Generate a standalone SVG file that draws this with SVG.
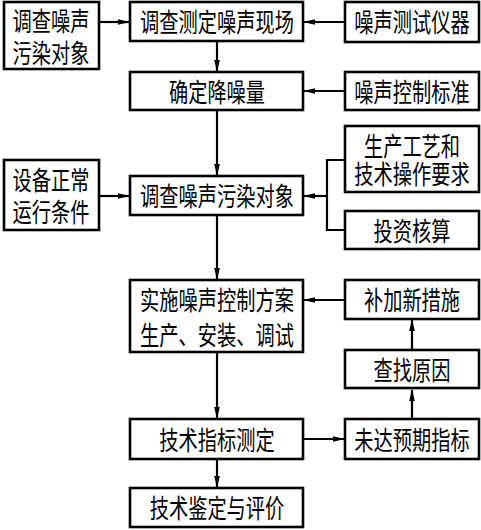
<svg xmlns="http://www.w3.org/2000/svg" width="481" height="530" viewBox="0 0 481 530">
<style>
.b{fill:#fff;stroke:#000;stroke-width:2.6}
.t{font-family:"Noto Sans CJK SC","Noto Sans",sans-serif;font-size:26px;fill:#000;text-anchor:middle;dominant-baseline:central}
.c{fill:none;stroke:#000;stroke-width:2.2}
</style>
<defs>
<marker id="a" markerWidth="12" markerHeight="8" refX="11" refY="4" orient="auto" markerUnits="userSpaceOnUse">
<path d="M0,1.2 L12,4 L0,6.8 Z" fill="#000"/>
</marker>
</defs>
<rect width="481" height="530" fill="#fff"/>
<g id="connectors">
<line class="c" x1="99" y1="22" x2="129" y2="22" marker-end="url(#a)"/>
<line class="c" x1="345" y1="22" x2="304" y2="22" marker-end="url(#a)"/>
<line class="c" x1="217" y1="41" x2="217" y2="71" marker-end="url(#a)"/>
<line class="c" x1="345" y1="91" x2="304" y2="91" marker-end="url(#a)"/>
<line class="c" x1="217" y1="110" x2="217" y2="175" marker-end="url(#a)"/>
<line class="c" x1="99" y1="196" x2="129" y2="196" marker-end="url(#a)"/>
<polyline class="c" points="345,160 327,160 327,230 345,230"/>
<line class="c" x1="327" y1="196" x2="304" y2="196" marker-end="url(#a)"/>
<line class="c" x1="217" y1="215" x2="217" y2="279" marker-end="url(#a)"/>
<line class="c" x1="345" y1="300" x2="304" y2="300" marker-end="url(#a)"/>
<line class="c" x1="412" y1="350" x2="412" y2="320" marker-end="url(#a)"/>
<line class="c" x1="217" y1="352" x2="217" y2="418" marker-end="url(#a)"/>
<line class="c" x1="303" y1="439" x2="344" y2="439" marker-end="url(#a)"/>
<line class="c" x1="412" y1="419" x2="412" y2="390" marker-end="url(#a)"/>
<line class="c" x1="217" y1="459" x2="217" y2="487" marker-end="url(#a)"/>
</g>
<g id="n1"><rect class="b" x="4" y="2" width="95" height="67"/>
<text class="t" transform="translate(51,20) scale(0.74,1)">调查噪声</text>
<text class="t" transform="translate(51,52) scale(0.74,1)">污染对象</text></g>
<g id="n2"><rect class="b" x="130" y="2" width="173" height="39"/>
<text class="t" transform="translate(217,21) scale(0.74,1)">调查测定噪声现场</text></g>
<g id="n3"><rect class="b" x="345" y="2" width="134" height="40"/>
<text class="t" transform="translate(412,21) scale(0.74,1)">噪声测试仪器</text></g>
<g id="n4"><rect class="b" x="130" y="72" width="173" height="38"/>
<text class="t" transform="translate(217,91) scale(0.74,1)">确定降噪量</text></g>
<g id="n5"><rect class="b" x="345" y="72" width="134" height="38"/>
<text class="t" transform="translate(412,91) scale(0.74,1)">噪声控制标准</text></g>
<g id="n6"><rect class="b" x="4" y="160" width="95" height="70"/>
<text class="t" transform="translate(51,179) scale(0.74,1)">设备正常</text>
<text class="t" transform="translate(51,211) scale(0.74,1)">运行条件</text></g>
<g id="n7"><rect class="b" x="130" y="176" width="173" height="39"/>
<text class="t" transform="translate(217,195) scale(0.74,1)">调查噪声污染对象</text></g>
<g id="n8"><rect class="b" x="345" y="126" width="134" height="66"/>
<text class="t" transform="translate(412,145) scale(0.74,1)">生产工艺和</text>
<text class="t" transform="translate(412,173) scale(0.74,1)">技术操作要求</text></g>
<g id="n9"><rect class="b" x="345" y="211" width="134" height="38"/>
<text class="t" transform="translate(412,230) scale(0.74,1)">投资核算</text></g>
<g id="n10"><rect class="b" x="130" y="280" width="173" height="72"/>
<text class="t" transform="translate(217,299) scale(0.74,1)">实施噪声控制方案</text>
<text class="t" transform="translate(217,334) scale(0.74,1)">生产、安装、调试</text></g>
<g id="n11"><rect class="b" x="345" y="280" width="134" height="39"/>
<text class="t" transform="translate(412,299) scale(0.74,1)">补加新措施</text></g>
<g id="n12"><rect class="b" x="345" y="350" width="134" height="38"/>
<text class="t" transform="translate(412,369) scale(0.74,1)">查找原因</text></g>
<g id="n13"><rect class="b" x="130" y="419" width="173" height="40"/>
<text class="t" transform="translate(217,439) scale(0.74,1)">技术指标测定</text></g>
<g id="n14"><rect class="b" x="345" y="419" width="134" height="40"/>
<text class="t" transform="translate(412,439) scale(0.74,1)">未达预期指标</text></g>
<g id="n15"><rect class="b" x="130" y="488" width="173" height="39"/>
<text class="t" transform="translate(217,507) scale(0.74,1)">技术鉴定与评价</text></g>
</svg>
